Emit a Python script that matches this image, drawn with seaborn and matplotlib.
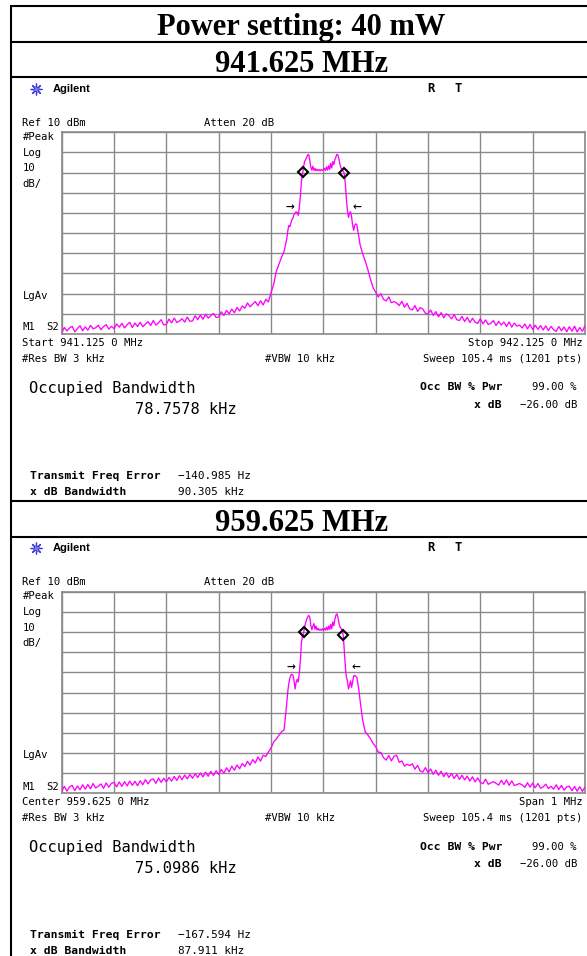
import numpy as np
import pandas as pd
import matplotlib
matplotlib.use("Agg")
import matplotlib.pyplot as plt
import seaborn as sns

# ---------------------------------------------------------------------------
# Spectrum traces: frequency offset from centre (kHz) and level (dBm)
# ---------------------------------------------------------------------------
skirt_lo_khz = np.arange(-500, -69, 5)   # -500 ... -70
core_khz = np.arange(-68, 69, 2)         # -68 ... 68
skirt_hi_khz = np.arange(70, 501, 5)     # 70 ... 500

# 941.625 MHz
ch1_skirt_lo = [
    -89.2, -86.8, -88.5, -87.0, -86.2, -88.9, -87.3, -85.9, -88.4, -86.5,
    -88.1, -85.7, -87.4, -86.9, -85.6, -87.9, -86.3, -85.4, -87.6, -86.2,
    -87.4, -85.0, -86.6, -84.7, -87.0, -85.4, -84.2, -86.8, -84.6, -86.3,
    -84.2, -86.4, -85.1, -83.9, -85.8, -83.3, -85.6, -84.4, -82.9, -85.5,
    -85.2, -82.6, -84.5, -82.1, -84.3, -83.6, -82.4, -84.1, -81.6, -83.7,
    -83.5, -81.0, -82.9, -80.6, -82.7, -80.2, -82.1, -80.9, -79.8, -81.8,
    -81.6, -79.0, -80.8, -78.3, -80.0, -77.6, -79.5, -76.8, -78.6, -76.1,
    -77.2, -74.6, -76.5, -75.2, -73.9, -76.0, -73.5, -75.6, -72.8, -74.1,
    -69.5, -65.5, -59.0, -55.5, -52.0, -49.0, -43.0,
]
ch1_core = [
    -39.0, -36.2, -36.8, -35.0, -33.2, -32.6, -30.8, -30.2, -29.4, -29.8,
    -31.2, -27.5, -22.0, -14.5, -11.0, -7.5, -4.6, -3.6, -2.4, -1.3,
    -1.0, -3.8, -7.2, -8.8, -6.8, -8.9, -7.9, -9.1, -8.3, -9.0,
    -8.5, -9.1, -8.4, -8.9, -8.6, -7.9, -8.9, -7.2, -8.7, -6.6,
    -8.4, -5.4, -7.7, -4.5, -6.0, -3.6, -2.2, -0.9, -1.3, -3.5,
    -6.2, -7.9, -8.6, -9.3, -10.5, -15.5, -23.0, -28.6, -32.2, -30.0,
    -29.4, -32.0, -36.2, -38.6, -36.0, -35.4, -35.8, -39.2, -42.0,
]
ch1_skirt_hi = [
    -45.5, -50.2, -53.8, -58.0, -62.8, -67.0, -69.3, -71.6, -70.0, -72.9,
    -73.6, -71.6, -74.5, -73.9, -74.6, -75.9, -73.8, -76.7, -74.8, -77.5,
    -78.1, -75.9, -78.8, -76.9, -77.6, -79.7, -80.0, -78.1, -80.8, -78.9,
    -81.5, -79.4, -82.0, -80.0, -80.9, -82.5, -80.4, -82.9, -83.3, -81.3,
    -83.8, -81.7, -84.3, -82.2, -84.1, -84.8, -82.4, -85.0, -83.0, -85.3,
    -84.7, -83.3, -85.8, -83.7, -85.5, -84.1, -86.3, -84.0, -86.6, -84.6,
    -86.1, -85.6, -87.0, -85.0, -87.5, -85.3, -87.8, -85.6, -87.7, -85.8,
    -88.0, -86.0, -88.3, -86.2, -87.9, -88.7, -86.3, -88.4, -86.5, -88.9,
    -86.4, -88.6, -86.1, -89.0, -86.8, -88.7, -85.8,
]

# 959.625 MHz
ch2_skirt_lo = [
    -89.0, -86.5, -88.9, -86.8, -86.0, -88.6, -86.3, -88.2, -85.7, -87.9,
    -85.6, -87.7, -85.1, -87.3, -86.4, -85.3, -87.5, -84.8, -86.9, -85.0,
    -84.6, -86.8, -84.3, -86.5, -84.2, -86.3, -83.9, -86.0, -84.0, -86.2,
    -83.7, -85.7, -83.2, -85.3, -83.3, -82.8, -85.0, -82.4, -84.5, -82.5,
    -84.3, -82.1, -83.9, -81.6, -83.6, -81.2, -83.2, -80.9, -82.8, -80.6,
    -82.5, -80.2, -82.1, -79.9, -81.8, -79.5, -81.5, -79.1, -81.1, -78.8,
    -80.6, -78.1, -80.0, -77.3, -79.3, -76.5, -78.5, -75.9, -77.8, -75.2,
    -76.7, -74.1, -76.0, -73.2, -74.9, -71.9, -74.0, -71.1, -71.7, -69.5,
    -67.5, -64.5, -63.0, -61.2, -59.5, -58.5, -45.5,
]
ch2_core = [
    -39.5, -35.5, -32.8, -31.3, -30.9, -31.5, -34.0, -38.2, -35.0, -33.4,
    -34.8, -30.5, -24.5, -15.5, -12.2, -11.0, -7.5, -5.5, -3.8, -2.6,
    -1.8, -2.5, -6.5, -8.9, -7.2, -5.8, -8.6, -7.0, -9.0, -8.2,
    -9.1, -8.6, -9.2, -8.4, -9.0, -8.2, -9.1, -7.6, -8.9, -7.0,
    -8.8, -6.2, -8.3, -5.0, -6.9, -3.8, -1.6, -1.0, -2.8, -5.8,
    -7.6, -8.2, -9.4, -11.8, -19.0, -27.0, -32.4, -34.0, -38.2, -36.5,
    -34.2, -37.4, -34.5, -31.8, -31.5, -32.0, -32.4, -35.5, -39.0,
]
ch2_skirt_hi = [
    -43.5, -53.5, -59.5, -61.0, -62.8, -65.2, -66.8, -69.6, -69.7, -72.3,
    -73.5, -71.2, -73.9, -71.6, -71.1, -74.6, -73.9, -76.5, -75.5, -76.2,
    -75.3, -78.0, -76.1, -78.9, -79.4, -77.2, -79.8, -77.9, -80.5, -78.5,
    -81.0, -79.0, -81.7, -79.7, -82.1, -80.1, -82.6, -80.6, -83.1, -81.0,
    -83.3, -81.4, -83.9, -81.8, -84.3, -82.3, -84.5, -85.2, -82.9, -85.5,
    -84.8, -84.2, -85.0, -85.9, -83.5, -85.6, -83.3, -86.0, -83.8, -86.1,
    -85.6, -85.1, -85.8, -87.0, -84.7, -86.9, -84.9, -87.2, -85.1, -87.4,
    -86.8, -85.4, -87.6, -86.5, -87.9, -85.7, -88.1, -86.0, -88.4, -86.8,
    -86.4, -88.7, -86.6, -88.9, -86.7, -89.0, -86.9,
]

# Measurement summary per channel
channel_titles = ["941.625 MHz", "959.625 MHz"]
freq_left_labels = ["Start 941.125 0 MHz", "Center 959.625 0 MHz"]
freq_right_labels = ["Stop 942.125 0 MHz", "Span 1 MHz"]
occ_bw_khz = [78.7578, 75.0986]
freq_error_hz = [-140.985, -167.594]
xdb_bw_khz = [90.305, 87.911]
occ_bw_pct = 99.00
xdb_level_db = -26.00

# Screen scale
ref_level_dbm = 10
db_per_div = 10
span_khz = 1000

# ---------------------------------------------------------------------------
sns.set_theme(style="white")
plt.rcParams["font.family"] = ["DejaVu Sans Mono", "DejaVu Sans"]
plt.rcParams["axes.unicode_minus"] = True

W, H = 587, 956
fig = plt.figure(figsize=(W / 100, H / 100), dpi=100)
fig.patch.set_facecolor("white")

frame = fig.add_axes([0, 0, 1, 1], zorder=0)
frame.set_xlim(0, W)
frame.set_ylim(H, 0)
frame.axis("off")

SERIF = ["Liberation Serif", "DejaVu Serif"]
MONO = ["DejaVu Sans Mono", "DejaVu Sans"]
GRID = "#8a8a8a"
TRACE = "#ff00ff"

# table rules
for y in [5.5, 41.7, 77.3, 500.7, 536.7]:
    frame.plot([10, W], [y, y], color="black", lw=1.5, solid_capstyle="butt")
frame.plot([11, 11], [5, H], color="black", lw=1.5, solid_capstyle="butt")

frame.text(301, 35, "Power setting: 40 mW", ha="center", va="baseline",
           fontsize=22, fontweight="bold", family=SERIF, color="black")

traces = [
    (np.concatenate([skirt_lo_khz, core_khz, skirt_hi_khz]),
     np.array(ch1_skirt_lo + ch1_core + ch1_skirt_hi)),
    (np.concatenate([skirt_lo_khz, core_khz, skirt_hi_khz]),
     np.array(ch2_skirt_lo + ch2_core + ch2_skirt_hi)),
]

offsets = [0.0, 459.4]
SM = 7.6


def txt(x, y, s, size=SM, ha="left", bold=False, family=MONO):
    frame.text(x, y, s, ha=ha, va="center", fontsize=size,
               fontweight="bold" if bold else "normal", family=family,
               color="black")


for i, off in enumerate(offsets):
    # channel header
    frame.text(302, 71.7 + off, channel_titles[i], ha="center", va="baseline",
               fontsize=22, fontweight="bold", family=SERIF, color="black")

    # instrument banner
    frame.plot(36, 89 + off, marker=(8, 2, 0), ms=8.5, color="#3b3bd6", mew=0.9)
    frame.plot(36, 89 + off, marker=(4, 2, 22.5), ms=5.5, color="#7a7af0", mew=0.7)
    txt(53, 89 + off, "Agilent", size=8.0, bold=True,
        family=["Liberation Sans", "DejaVu Sans"])
    txt(431, 88.5 + off, "R", size=8.8, ha="center", bold=True)
    txt(458, 88.5 + off, "T", size=8.8, ha="center", bold=True)

    txt(22.5, 122.5 + off, f"Ref {ref_level_dbm} dBm")
    txt(204, 122.5 + off, "Atten 20 dB")
    txt(22.5, 137 + off, "#Peak")
    txt(22.5, 152.7 + off, "Log")
    txt(22.5, 168.3 + off, f"{db_per_div}")
    txt(22.5, 184 + off, "dB/")
    txt(22.5, 295.7 + off, "LgAv")
    txt(22.5, 327.3 + off, "M1")
    txt(46, 327.3 + off, "S2")

    txt(22.5, 342.7 + off, freq_left_labels[i])
    txt(582.5, 342.7 + off, freq_right_labels[i], ha="right")
    txt(22.5, 359 + off, "#Res BW 3 kHz")
    txt(265, 359 + off, "#VBW 10 kHz")
    txt(582.5, 359 + off, "Sweep 105.4 ms (1201 pts)", ha="right")

    txt(29, 388 + off, "Occupied Bandwidth", size=11.1)
    txt(135, 409.5 + off, f"{occ_bw_khz[i]:.4f} kHz", size=11.1)
    txt(502, 387.5 + off, "Occ BW % Pwr", size=8.2, ha="right", bold=True)
    txt(577, 387.5 + off, f"{occ_bw_pct:.2f} %", ha="right")
    txt(502, 405 + off, "x dB", size=8.2, ha="right", bold=True)
    txt(577, 405 + off, f"{xdb_level_db:.2f} dB".replace("-", "\u2212"), ha="right")

    txt(30, 475.7 + off, "Transmit Freq Error", size=8.2, bold=True)
    txt(178, 475.7 + off, f"{freq_error_hz[i]:.3f} Hz".replace("-", "\u2212"), size=7.9)
    txt(30, 491.5 + off, "x dB Bandwidth", size=8.2, bold=True)
    txt(178, 491.5 + off, f"{xdb_bw_khz[i]:.3f} kHz", size=7.9)

    # graticule
    top, bottom, left, right = 132.3 + off, 334.0 + off, 61.7, 585.0
    ax = fig.add_axes([left / W, 1 - bottom / H, (right - left) / W, (bottom - top) / H],
                      zorder=2)
    ax.set_facecolor("white")

    khz, dbm = traces[i]
    df = pd.DataFrame({"khz": khz, "dbm": dbm})
    sns.lineplot(data=df, x="khz", y="dbm", ax=ax, color=TRACE, lw=0.95,
                 estimator=None, sort=False, zorder=3)

    bottom_dbm = ref_level_dbm - 10 * db_per_div
    ax.set_xlim(-span_khz / 2, span_khz / 2)
    ax.set_ylim(bottom_dbm, ref_level_dbm)
    ax.set_xticks(np.linspace(-span_khz / 2, span_khz / 2, 11))
    ax.set_yticks(np.linspace(bottom_dbm, ref_level_dbm, 11))
    ax.grid(True, color=GRID, lw=1.0)
    ax.tick_params(length=0, labelbottom=False, labelleft=False)
    ax.set_xlabel("")
    ax.set_ylabel("")
    for sp in ax.spines.values():
        sp.set_color(GRID)
        sp.set_linewidth(1.2)

    # occupied-bandwidth markers on the trace
    half = occ_bw_khz[i] / 2
    mk_x = np.array([-half, half])
    mk_y = np.interp(mk_x, khz, dbm)
    ax.plot(mk_x, mk_y, ls="none", marker="D", ms=5.4, mfc="none",
            mec="black", mew=1.5, zorder=5)

    # x dB bandwidth arrows
    lvl = dbm.max() + xdb_level_db
    edge = xdb_bw_khz[i] / 2
    ax.annotate("\u2192", xy=(-edge, lvl), xytext=(-4, 0), textcoords="offset points",
                ha="right", va="center", fontsize=10.5, family=MONO, color="black")
    ax.annotate("\u2190", xy=(edge, lvl), xytext=(4, 0), textcoords="offset points",
                ha="left", va="center", fontsize=10.5, family=MONO, color="black")

fig.savefig("out.png", dpi=100, facecolor="white")
